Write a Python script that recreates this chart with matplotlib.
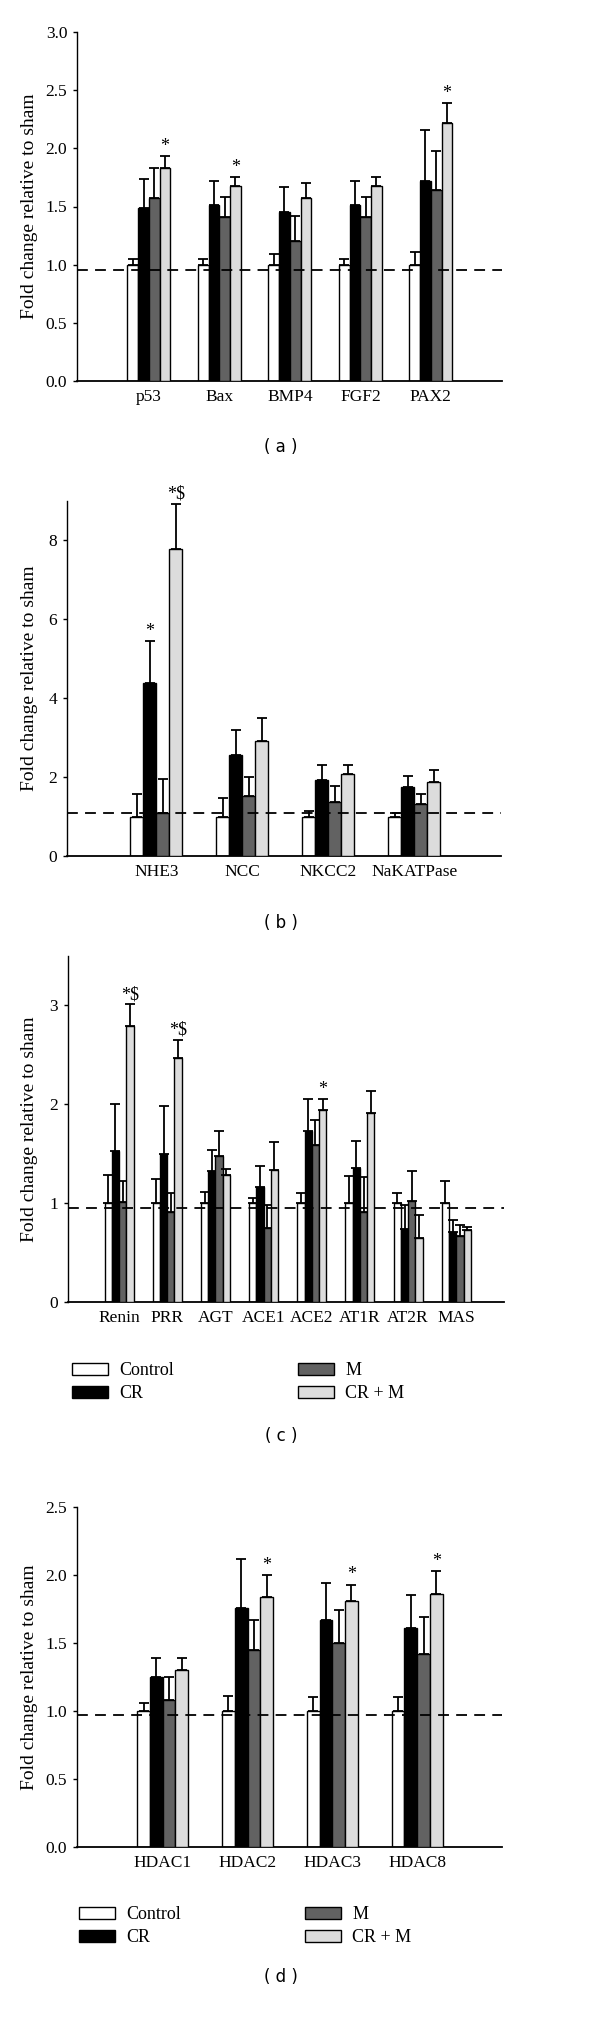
import numpy as np
import matplotlib
matplotlib.use("Agg")
import matplotlib.pyplot as plt
from matplotlib.patches import Patch

plt.rcParams['font.family'] = ['Liberation Serif', 'DejaVu Serif']
plt.rcParams['font.size'] = 12

W = 600
H = 2018

groups = ["Control", "CR", "M", "CR + M"]
colors = ["#ffffff", "#000000", "#626262", "#dcdcdc"]

# panel a
genes_a = ["p53", "Bax", "BMP4", "FGF2", "PAX2"]
control_a = [1.0, 1.0, 1.0, 1.0, 1.0]
control_a_err = [0.05, 0.05, 0.09, 0.05, 0.11]
cr_a = [1.49, 1.51, 1.45, 1.51, 1.72]
cr_a_err = [0.25, 0.21, 0.22, 0.21, 0.44]
m_a = [1.57, 1.41, 1.20, 1.41, 1.64]
m_a_err = [0.26, 0.17, 0.22, 0.17, 0.34]
crm_a = [1.83, 1.68, 1.57, 1.68, 2.22]
crm_a_err = [0.10, 0.07, 0.13, 0.07, 0.17]
marks_a = {(3, 0): "*", (3, 1): "*", (3, 4): "*"}

# panel b
genes_b = ["NHE3", "NCC", "NKCC2", "NaKATPase"]
control_b = [1.0, 1.0, 1.0, 1.0]
control_b_err = [0.58, 0.48, 0.15, 0.08]
cr_b = [4.38, 2.57, 1.92, 1.76]
cr_b_err = [1.06, 0.62, 0.38, 0.28]
m_b = [1.08, 1.52, 1.37, 1.33]
m_b_err = [0.88, 0.48, 0.40, 0.25]
crm_b = [7.79, 2.92, 2.09, 1.87]
crm_b_err = [1.14, 0.58, 0.22, 0.32]
marks_b = {(1, 0): "*", (3, 0): "*$"}

# panel c
genes_c = ["Renin", "PRR", "AGT", "ACE1", "ACE2", "AT1R", "AT2R", "MAS"]
control_c = [1.0, 1.0, 1.0, 1.0, 1.0, 1.0, 1.0, 1.0]
control_c_err = [0.28, 0.24, 0.11, 0.05, 0.10, 0.27, 0.10, 0.22]
cr_c = [1.53, 1.50, 1.33, 1.165, 1.73, 1.36, 0.74, 0.71]
cr_c_err = [0.47, 0.48, 0.21, 0.215, 0.32, 0.27, 0.24, 0.12]
m_c = [1.01, 0.91, 1.48, 0.75, 1.59, 0.91, 1.02, 0.67]
m_c_err = [0.21, 0.19, 0.25, 0.23, 0.25, 0.35, 0.31, 0.11]
crm_c = [2.79, 2.47, 1.28, 1.34, 1.94, 1.91, 0.65, 0.73]
crm_c_err = [0.22, 0.18, 0.07, 0.28, 0.11, 0.22, 0.23, 0.03]
marks_c = {(3, 0): "*$", (3, 1): "*$", (3, 4): "*"}

# panel d
genes_d = ["HDAC1", "HDAC2", "HDAC3", "HDAC8"]
control_d = [1.0, 1.0, 1.0, 1.0]
control_d_err = [0.06, 0.11, 0.10, 0.10]
cr_d = [1.25, 1.76, 1.67, 1.61]
cr_d_err = [0.14, 0.36, 0.27, 0.24]
m_d = [1.08, 1.45, 1.50, 1.42]
m_d_err = [0.17, 0.22, 0.24, 0.27]
crm_d = [1.30, 1.84, 1.81, 1.86]
crm_d_err = [0.09, 0.16, 0.12, 0.17]
marks_d = {(3, 1): "*", (3, 2): "*", (3, 3): "*"}


def px_axes(fig, left, right, top, bottom):
    return fig.add_axes([left / W, 1 - bottom / H, (right - left) / W, (bottom - top) / H])


def bar_panel(ax, genes, series, errs, marks, width, xlim, ylim, yticks, ytlabels, dash_y, label_x):
    x = np.arange(len(genes))
    offsets = (np.arange(4) - 1.5) * width
    for k in range(4):
        pos = x + offsets[k]
        ax.bar(pos, series[k], width, color=colors[k], edgecolor="black", linewidth=1.0, zorder=2 + k)
        ax.errorbar(pos, series[k], yerr=[np.zeros(len(genes)), errs[k]], fmt="none",
                    ecolor="black", elinewidth=1.3, capsize=3.6, capthick=1.3, zorder=2 + k)
    # significance marks above the error bars
    for (k, i), txt in marks.items():
        top = series[k][i] + errs[k][i]
        ax.annotate(txt, (x[i] + offsets[k], top), xytext=(0, 1), textcoords="offset points",
                    ha="center", va="bottom", fontsize=13)
    ax.axhline(dash_y, color="black", linewidth=1.3, dashes=(6, 4), zorder=10)
    ax.set_xlim(*xlim)
    ax.set_ylim(*ylim)
    ax.set_xticks(x)
    ax.set_xticklabels(genes, fontsize=12.5)
    ax.set_yticks(yticks)
    ax.set_yticklabels(ytlabels, fontsize=12.5)
    ax.tick_params(axis="x", length=0, pad=6)
    ax.tick_params(axis="y", length=3, width=1, pad=4, direction="out")
    for s in ["top", "right"]:
        ax.spines[s].set_visible(False)
    ax.spines["left"].set_linewidth(1.0)
    ax.spines["bottom"].set_linewidth(1.3)
    ax.set_ylabel("Fold change relative to sham", fontsize=14)
    ax.yaxis.set_label_coords(label_x, 0.5)


def add_legend(fig, x, y):
    handles = [Patch(facecolor=c, edgecolor="black", linewidth=1.0) for c in colors]
    fig.legend(handles, groups, loc="upper left", bbox_to_anchor=(x / W, 1 - y / H), ncol=2,
               frameon=False, fontsize=13, handlelength=2.0, handleheight=0.65,
               handletextpad=0.6, columnspacing=6.9, labelspacing=0.35,
               borderpad=0, borderaxespad=0)


fig = plt.figure(figsize=(6, 20.18), dpi=100)

ax = px_axes(fig, 77, 502, 32, 381)
bar_panel(ax, genes_a, [control_a, cr_a, m_a, crm_a], [control_a_err, cr_a_err, m_a_err, crm_a_err],
          marks_a, 0.152, (-1.02, 5.01), (0, 3.0), np.arange(0, 3.01, 0.5),
          ["0.0", "0.5", "1.0", "1.5", "2.0", "2.5", "3.0"], 0.95, -0.092)

ax = px_axes(fig, 67, 501, 501, 856)
bar_panel(ax, genes_b, [control_b, cr_b, m_b, crm_b], [control_b_err, cr_b_err, m_b_err, crm_b_err],
          marks_b, 0.151, (-1.04, 4.01), (0, 9.0), [0, 2, 4, 6, 8],
          ["0", "2", "4", "6", "8"], 1.10, -0.067)

ax = px_axes(fig, 68, 504, 956, 1302)
bar_panel(ax, genes_c, [control_c, cr_c, m_c, crm_c], [control_c_err, cr_c_err, m_c_err, crm_c_err],
          marks_c, 0.15, (-1.06, 7.99), (0, 3.5), [0, 1, 2, 3],
          ["0", "1", "2", "3"], 0.95, -0.069)
add_legend(fig, 72, 1362)

ax = px_axes(fig, 77, 502, 1507, 1847)
bar_panel(ax, genes_d, [control_d, cr_d, m_d, crm_d], [control_d_err, cr_d_err, m_d_err, crm_d_err],
          marks_d, 0.15, (-1.01, 4.0), (0, 2.5), np.arange(0, 2.51, 0.5),
          ["0.0", "0.5", "1.0", "1.5", "2.0", "2.5"], 0.968, -0.092)
add_legend(fig, 79, 1906)

for lab, yy in [("( a )", 447), ("( b )", 923), ("( c )", 1436), ("( d )", 1977)]:
    fig.text(281 / W, 1 - yy / H, lab, ha="center", va="center", fontsize=12, family="DejaVu Sans")

fig.savefig("out.png", dpi=100)
